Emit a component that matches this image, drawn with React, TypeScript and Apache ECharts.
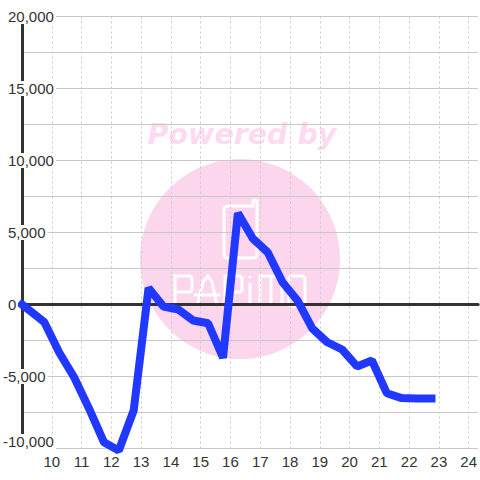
import React, { useEffect, useRef } from "react";
import * as echarts from "echarts";

const hours = [9, 9.75, 10.25, 10.75, 11.25, 11.75, 12.25, 12.75, 13.25, 13.75, 14.25, 14.75, 15.25, 15.75, 16.25, 16.75, 17.25, 17.75, 18.25, 18.75, 19.25, 19.75, 20.25, 20.75, 21.25, 21.75, 22.25, 22.75];
const values = [0, -1230, -3330, -5050, -7220, -9560, -10140, -7360, 1150, -140, -350, -1110, -1300, -3700, 6350, 4580, 3630, 1550, 280, -1670, -2620, -3125, -4300, -3890, -6160, -6500, -6530, -6530];
const xMin = 9;
const xMax = 24.317;
const yMin = -10000;
const yMax = 20000;
const yStep = 2500;
const labelStep = 5000;

const PINK = "#fcd6ed";
const logoPath =
  "M228 206 L253 206 L253 202 Q253 200 255 200 Q257 200 257 202 L257 254 Q257 258 253 258 L228 258 Q224 258 224 254 L224 210 Q224 206 228 206 Z " +
  "M175 306 L175 276 L190 276 L192 278 L192 290 L190 292 L175 292 " +
  "M197 306 L203 282 L208 276 L212 282 L217 306 M194 295 L220 295 " +
  "M225 306 L225 276 L240 276 L242 278 L242 290 L240 292 L225 292 " +
  "M250 283 L250 306 M250 276 L250 278 " +
  "M260 306 L260 276 L280 276 L282 278 L282 306 M271 276 L271 306 " +
  "M289 278 L291 276 L303 276 L305 278 L305 304 L303 306 L291 306 L289 304 Z";

echarts.graphic.registerShape("papimoLogo", echarts.graphic.extendPath(logoPath, {}) as any);

const fmt = (v: number) => {
  if (v % labelStep !== 0) return "";
  const s = Math.abs(v).toLocaleString("en-US");
  if (v === yMin) return `{low|-${s}}`;
  if (v < 0) return `{neg|-${s}}`;
  return `{pos|${s}}`;
};

const labelBase = {
  fontFamily: "Liberation Sans",
  fontSize: 15,
  color: "#333333",
  backgroundColor: "#ffffff",
};

export default function App() {
  const ref = useRef<HTMLDivElement>(null);
  useEffect(() => {
    const chart = echarts.init(ref.current!, undefined, { renderer: "svg" });
    chart.setOption({
      animation: false,
      backgroundColor: "#ffffff",
      grid: { left: 20.5, right: 0, top: 16.5, bottom: 31.5, containLabel: false },
      graphic: [
        { type: "circle", z: -10, shape: { cx: 240, cy: 259, r: 100 }, style: { fill: PINK } },
        {
          type: "text",
          z: -10,
          x: 242,
          y: 134,
          style: {
            text: "Powered by",
            fill: "#fddaf0",
            fontFamily: "DejaVu Sans",
            fontWeight: "bold",
            fontStyle: "italic",
            fontSize: 28.5,
            align: "center",
            verticalAlign: "middle",
          },
        },
        { type: "papimoLogo", z: -9, style: { fill: "none", stroke: "#ffffff", lineWidth: 3 } },
      ],
      xAxis: [
        {
          type: "value",
          min: xMin,
          max: xMax,
          interval: 1,
          position: "bottom",
          axisLine: { show: false, onZero: false },
          axisTick: { show: false },
          splitLine: { show: true, showMaxLine: false, lineStyle: { color: "#c8c8c8", width: 1, type: [2, 3] } },
          axisLabel: {
            margin: 5,
            fontFamily: "Liberation Sans",
            fontSize: 15,
            color: "#333333",
            showMinLabel: false,
            showMaxLabel: false,
            formatter: (v: number) => String(v),
          },
        },
        {
          type: "value",
          min: xMin,
          max: xMax,
          interval: 1,
          position: "bottom",
          axisLine: { show: true, onZero: true, lineStyle: { color: "#333333", width: 3 } },
          axisTick: { show: false },
          splitLine: { show: false },
          axisLabel: { show: false },
        },
      ],
      yAxis: {
        type: "value",
        min: yMin,
        max: yMax,
        interval: yStep,
        axisLine: { show: true, onZero: false, lineStyle: { color: "#333333", width: 3 } },
        axisTick: { show: false },
        splitLine: { show: true, lineStyle: { color: "#c8c8c8", width: 1 } },
        axisLabel: {
          margin: 19,
          align: "left",
          verticalAlign: "middle",
          formatter: fmt,
          rich: {
            pos: { ...labelBase, padding: [0, 2, 0, 5] },
            neg: { ...labelBase, padding: [0, 2, 0, 0] },
            low: { ...labelBase, padding: [0, 2, 14, 0] },
          },
        },
      },
      series: [
        {
          type: "line",
          xAxisIndex: 0,
          yAxisIndex: 0,
          data: hours.map((h, i) => [h, values[i]]),
          showSymbol: false,
          clip: false,
          lineStyle: { color: "#2038ff", width: 8, join: "bevel", cap: "square" },
          z: 5,
        },
      ],
    });
    return () => chart.dispose();
  }, []);
  return <div ref={ref} style={{ position: "fixed", left: 0, top: 0, width: 480, height: 480 }} />;
}
